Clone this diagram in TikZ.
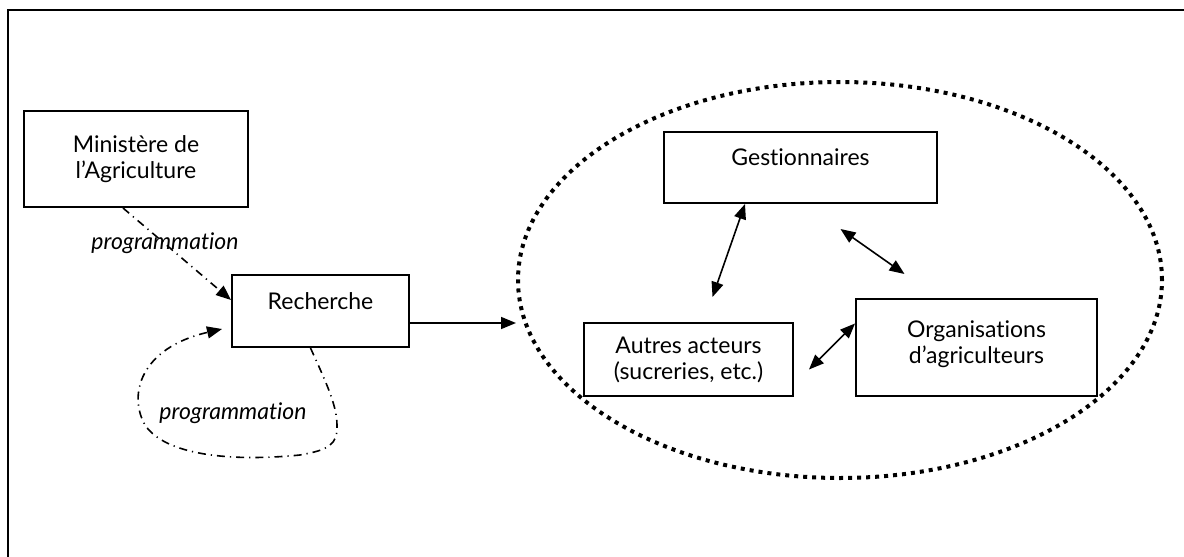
\documentclass[tikz,border=0pt]{standalone}
\usepackage{fontspec}
\setmainfont{Lato}[Ligatures={NoCommon}]
\usetikzlibrary{positioning}
\usetikzlibrary{shapes.geometric}
\usetikzlibrary{arrows.meta}

\tikzset{
  boite/.style={draw, line width=1pt, align=center, font=\fontsize{11.5}{13}\selectfont},
  boitehaut/.style={boite, text height=8pt, text depth=10pt},
  fleche/.style={line width=0.8pt, -{Triangle[length=7.5pt, width=6pt]}},
  double/.style={line width=0.8pt, {Triangle[length=7.5pt, width=6pt]}-{Triangle[length=7.5pt, width=6pt]}},
  tiret/.style={line width=0.7pt, dash pattern=on 4pt off 2.5pt on 0.6pt off 2.5pt},
  etiquette/.style={font=\fontsize{11.5}{13}\selectfont\itshape},
}

\begin{document}
\begin{tikzpicture}[x=0.5pt, y=-0.5pt]
  \clip (0,0) rectangle (1184,557);

  % Draw the frame
  \draw[line width=1pt] (8,10) rectangle (1200,575);

  % Boxes on the left
  \node[boite, minimum width=112pt, minimum height=48pt] (minis) at (136,159) {Ministère de\\l’Agriculture};
  \node[boitehaut, minimum width=88.5pt, minimum height=36pt] (rech) at (320.5,311) {Recherche};

  % Dotted circle of actors
  \node[ellipse, draw, line width=2pt, dash pattern=on 2pt off 2.5pt,
        minimum width=322pt, minimum height=198pt] (cercle) at (840,280) {};
  \node[boitehaut, minimum width=136.5pt, minimum height=35.5pt] (gest) at (800.5,167.5) {Gestionnaires};
  \node[boite, minimum width=104.5pt, minimum height=36.5pt] (autres) at (688.5,359.5) {Autres acteurs\\(sucreries, etc.)};
  \node[boite, minimum width=120.5pt, minimum height=48.5pt, text depth=5pt] (org) at (976.5,347.5) {Organisations\\d’agriculteurs};

  % Labels
  \node[etiquette] (prog1) at (165,243) {programmation};
  \node[etiquette] (prog2) at (233,413) {programmation};

  % Programming arrows
  \draw[tiret, fleche] ([xshift=-6.5pt]minis.south) -- ([yshift=5.5pt]rech.west);
  \draw[tiret, fleche] ([xshift=-5pt]rech.south)
    .. controls (325,380) and (337,405) .. (337,425)
    .. controls (338,445) and (328,450) .. (300,455)
    .. controls (230,462) and (165,455) .. (145,425)
    .. controls (128,395) and (140,348) .. ([xshift=-4.5pt, yshift=-9pt]rech.west);

  % Arrow to the actors
  \draw[fleche] ([yshift=-6pt]rech.east) -- ([yshift=-6pt]rech.east -| cercle.west);

  % Arrows between the actors
  \draw[double] ([xshift=12pt, yshift=12.5pt]autres.north) -- ([xshift=-27.75pt]gest.south);
  \draw[double] ([xshift=20pt, yshift=-12.5pt]gest.south) -- ([xshift=-36pt, yshift=12pt]org.north);
  \draw[double] ([xshift=7.5pt, yshift=-5pt]autres.east) -- ([yshift=12pt]org.west);
\end{tikzpicture}
\end{document}
